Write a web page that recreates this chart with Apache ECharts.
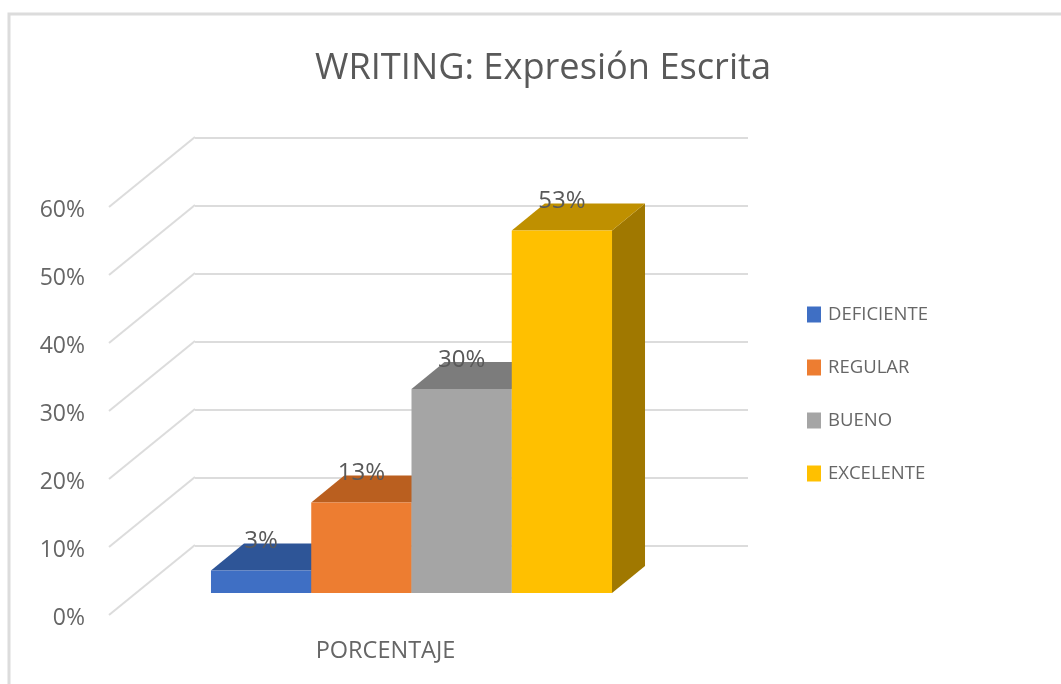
<!DOCTYPE html>
<html>
<head>
<meta charset="utf-8">
<style>html,body{margin:0;padding:0;background:#fff}#c{width:1061px;height:684px;filter:blur(0.6px)}</style>
<script src="https://cdn.jsdelivr.net/npm/echarts@6/dist/echarts.min.js"></script>
</head>
<body>
<div id="c"></div>
<script>
const titleText = 'WRITING: Expresión Escrita';
const groupLabels = ['PORCENTAJE'];
const levels = ['DEFICIENTE', 'REGULAR', 'BUENO', 'EXCELENTE'];
const percentages = [3.3, 13.3, 30, 53.3];
const axisTicks = [0, 10, 20, 30, 40, 50, 60];
const frontColors = ['#3F6FC4', '#ED7D31', '#A5A5A5', '#FFC000'];
const topColors = ['#2E5597', '#BA5F1F', '#7C7C7C', '#BF9000'];
const sideColors = ['#264778', '#9A4F19', '#666666', '#A07800'];

const FONT = '"Open Sans", "Noto Sans", sans-serif';
const TEXT = '#666666';
const WALL = { dx: 86, dy: -70 };
const FLOOR = { dx: 26, dy: -22 };
const DEPTH = { dx: 33, dy: -27 };
const BAR_SHARE = 0.1813;

const chart = echarts.init(document.getElementById('c'), null, { renderer: 'canvas' });

function barSeries(name, i) {
  return {
    name,
    type: 'custom',
    xAxisIndex: 0,
    yAxisIndex: 0,
    itemStyle: { color: frontColors[i] },
    data: [[0, percentages[i]]],
    z: 5 + i,
    renderItem(params, api) {
      const cs = params.coordSys;
      const w = cs.width * BAR_SHARE;
      const base = api.coord([api.value(0), 0]);
      const top = api.coord([api.value(0), api.value(1)]);
      const l = base[0] + FLOOR.dx + (i - 2) * w;
      const r = l + w;
      const b = base[1] + FLOOR.dy;
      const t = top[1] + FLOOR.dy;
      const poly = (points, fill) => ({ type: 'polygon', shape: { points }, style: { fill } });
      return {
        type: 'group',
        children: [
          poly([[r, b], [r + DEPTH.dx, b + DEPTH.dy], [r + DEPTH.dx, t + DEPTH.dy], [r, t]], sideColors[i]),
          poly([[l, t], [l + DEPTH.dx, t + DEPTH.dy], [r + DEPTH.dx, t + DEPTH.dy], [r, t]], topColors[i]),
          poly([[l, t], [r, t], [r, b], [l, b]], frontColors[i]),
          {
            type: 'text',
            style: {
              x: (l + r) / 2, y: t - 29,
              text: Math.round(api.value(1)) + '%',
              fill: '#595959', font: '24px ' + FONT,
              align: 'center', verticalAlign: 'middle'
            }
          }
        ]
      };
    }
  };
}

chart.setOption({
  animation: false,
  backgroundColor: '#ffffff',
  title: {
    text: titleText, left: 310, top: 46,
    textStyle: { fontFamily: FONT, fontSize: 36.2, fontWeight: 'normal', color: '#595959' }
  },
  graphic: [{
    type: 'rect', silent: true, z: -10,
    shape: { x: 9, y: 14, width: 1200, height: 800 },
    style: { fill: 'none', stroke: '#dcdcdc', lineWidth: 3 }
  }],
  legend: {
    orient: 'vertical', left: 802, top: 300,
    itemWidth: 14, itemHeight: 16, itemGap: 34,
    icon: 'rect', data: levels, selectedMode: false,
    textStyle: { fontFamily: FONT, fontSize: 18.5, lineHeight: 16, color: TEXT, padding: [0, 0, 0, 2] }
  },
  grid: [
    { left: 109, top: 207, width: 553, height: 408 },
    { left: 195, top: 137.5, width: 553, height: 408 }
  ],
  xAxis: [
    {
      gridIndex: 0, type: 'category', data: groupLabels,
      axisLine: { show: false }, axisTick: { show: false },
      axisLabel: { margin: 24, fontFamily: FONT, fontSize: 23.5, color: TEXT }
    },
    { gridIndex: 1, type: 'category', data: groupLabels, show: false }
  ],
  yAxis: [
    {
      gridIndex: 0, type: 'value', min: axisTicks[0], max: axisTicks[axisTicks.length - 1], interval: 10,
      axisLine: { show: false }, axisTick: { show: false }, splitLine: { show: false },
      axisLabel: { margin: 24, formatter: '{value}%', fontFamily: FONT, fontSize: 23, color: TEXT, verticalAlign: 'top', lineHeight: 7 }
    },
    {
      gridIndex: 1, type: 'value', min: axisTicks[0], max: axisTicks[axisTicks.length - 1], interval: 10,
      axisLine: { show: false }, axisTick: { show: false }, axisLabel: { show: false },
      splitLine: { show: true, lineStyle: { color: '#dcdcdc', width: 2 } }
    }
  ],
  series: [
    {
      name: 'wall', type: 'custom', xAxisIndex: 0, yAxisIndex: 0, silent: true, z: 1,
      data: axisTicks.map(t => [0, t]),
      renderItem(params, api) {
        const p = api.coord([api.value(0), api.value(1)]);
        const x = params.coordSys.x;
        return {
          type: 'line',
          shape: { x1: x, y1: p[1], x2: x + WALL.dx, y2: p[1] + WALL.dy },
          style: { stroke: '#dcdcdc', lineWidth: 2 }
        };
      }
    },
    ...levels.map(barSeries)
  ]
});
</script>
</body>
</html>
